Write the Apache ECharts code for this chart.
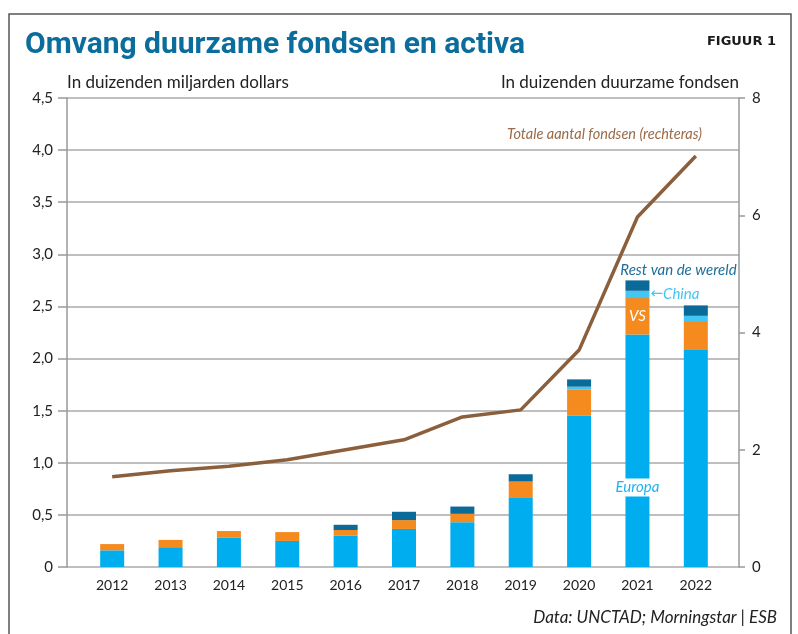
<!DOCTYPE html>
<html>
<head>
<meta charset="utf-8">
<script src="https://cdn.jsdelivr.net/npm/echarts@6/dist/echarts.min.js"></script>
<style>
  html, body { margin: 0; padding: 0; background: #fff; }
  #chart { width: 798px; height: 634px; }
</style>
</head>
<body>
<div id="chart"></div>
<script>
// waarden
const years = ['2012', '2013', '2014', '2015', '2016', '2017', '2018', '2019', '2020', '2021', '2022'];
const europa = [0.16, 0.19, 0.28, 0.25, 0.30, 0.365, 0.43, 0.67, 1.45, 2.23, 2.09];
const vs = [0.06, 0.07, 0.065, 0.085, 0.055, 0.085, 0.08, 0.15, 0.25, 0.35, 0.27];
const china = [null, null, null, null, null, null, null, null, 0.03, 0.07, 0.05];
const rest = [null, null, null, null, 0.05, 0.08, 0.07, 0.07, 0.07, 0.10, 0.10];
const fondsen = [1.538, 1.64, 1.72, 1.83, 2.0, 2.17, 2.56, 2.68, 3.70, 5.97, 7.012];

const FONT = 'Lato';
const LABEL_YEAR = 9; // 2021 krijgt de annotaties

function withLabel(arr, idx, label) {
  return arr.map((v, i) => (i === idx ? { value: v, label: label } : v));
}

const chart = echarts.init(document.getElementById('chart'));

const option = {
  animation: false,
  textStyle: { fontFamily: FONT },
  title: [
    {
      text: 'Omvang duurzame fondsen en activa',
      left: 20,
      top: 25,
      textStyle: { fontFamily: 'Roboto', fontWeight: 'bold', fontSize: 30, color: '#0b6d9c' }
    },
    {
      text: 'FIGUUR 1',
      right: 17,
      top: 30,
      textStyle: { fontFamily: 'DejaVu Sans', fontWeight: 'bold', fontSize: 13, color: '#1a1a1a' }
    },
    {
      text: 'Data: UNCTAD; Morningstar | ESB',
      right: 16,
      top: 604,
      textStyle: { fontFamily: FONT, fontStyle: 'italic', fontWeight: 'normal', fontSize: 17, color: '#222' }
    }
  ],
  graphic: [
    {
      type: 'rect',
      silent: true,
      z: -10,
      shape: { x: 9, y: 14, width: 782, height: 660 },
      style: { fill: 'none', stroke: '#555', lineWidth: 1.5 }
    },
    {
      type: 'text',
      silent: true,
      x: 702,
      y: 134,
      style: {
        text: 'Totale aantal fondsen (rechteras)',
        fill: '#9a6b48',
        font: 'italic 14.5px Lato',
        align: 'right',
        verticalAlign: 'middle'
      }
    }
  ],
  grid: [
    { left: 67, right: 59, top: 98, bottom: 67 },
    { left: 83, right: 73, top: 98, bottom: 67 }
  ],
  xAxis: [
    {
      type: 'value', gridIndex: 0, min: 0, max: 1,
      axisLine: { show: false }, axisTick: { show: false },
      axisLabel: { show: false }, splitLine: { show: false }
    },
    {
      type: 'category', gridIndex: 1, data: years,
      axisLine: { show: false }, axisTick: { show: false },
      axisLabel: { color: '#222', fontSize: 14, margin: 11 }
    }
  ],
  yAxis: [
    {
      type: 'value', gridIndex: 0, position: 'left',
      min: 0, max: 4.5, interval: 0.5,
      name: 'In duizenden miljarden dollars',
      nameLocation: 'end',
      nameGap: 15,
      nameTextStyle: { align: 'left', verticalAlign: 'middle', fontSize: 17, color: '#222' },
      axisLine: { show: true, lineStyle: { color: '#999', width: 1.5 } },
      axisTick: { show: true, length: 9, lineStyle: { color: '#999', width: 1.5 } },
      axisLabel: {
        color: '#222', fontSize: 15, margin: 14,
        formatter: v => (v === 0 ? '0' : v.toFixed(1).replace('.', ','))
      },
      splitLine: { show: true, lineStyle: { color: '#aaa', width: 1.5 } }
    },
    {
      type: 'value', gridIndex: 0, position: 'right',
      min: 0, max: 8, interval: 2,
      name: 'In duizenden duurzame fondsen',
      nameLocation: 'end',
      nameGap: 15,
      nameTextStyle: { align: 'right', verticalAlign: 'middle', fontSize: 17, color: '#222' },
      axisLine: { show: true, lineStyle: { color: '#999', width: 1.5 } },
      axisTick: { show: true, length: 6, lineStyle: { color: '#999', width: 1.5 } },
      axisLabel: { color: '#222', fontSize: 15, margin: 13 },
      splitLine: { show: false }
    },
    { type: 'value', gridIndex: 1, min: 0, max: 4.5, show: false },
    { type: 'value', gridIndex: 1, min: 0, max: 8, show: false }
  ],
  series: [
    {
      name: 'Europa', type: 'bar', stack: 'activa',
      xAxisIndex: 1, yAxisIndex: 2, barWidth: 24,
      itemStyle: { color: '#00adee' },
      data: withLabel(europa, LABEL_YEAR, {
        show: true,
        position: ['50%', 153],
        align: 'center',
        verticalAlign: 'middle',
        formatter: 'Europa',
        color: '#1fb4ef',
        fontStyle: 'italic',
        fontSize: 15,
        lineHeight: 18,
        backgroundColor: '#fff',
        padding: [0, 0]
      })
    },
    {
      name: 'VS', type: 'bar', stack: 'activa',
      xAxisIndex: 1, yAxisIndex: 2, barWidth: 24,
      itemStyle: { color: '#f58a1f' },
      data: withLabel(vs, LABEL_YEAR, {
        show: true, position: 'inside', formatter: 'VS',
        color: '#fff', fontStyle: 'italic', fontSize: 15
      })
    },
    {
      name: 'China', type: 'bar', stack: 'activa',
      xAxisIndex: 1, yAxisIndex: 2, barWidth: 24,
      itemStyle: { color: '#43c6f2' },
      data: withLabel(china, LABEL_YEAR, {
        show: true, position: 'right', distance: 1,
        formatter: '{a|←}{b|China}',
        rich: {
          a: { fontFamily: 'DejaVu Sans', fontSize: 15, color: '#43c6f2' },
          b: { fontFamily: FONT, fontStyle: 'italic', fontSize: 15, color: '#43c6f2' }
        }
      })
    },
    {
      name: 'Rest van de wereld', type: 'bar', stack: 'activa',
      xAxisIndex: 1, yAxisIndex: 2, barWidth: 24,
      itemStyle: { color: '#0a6a9a' },
      data: withLabel(rest, LABEL_YEAR, {
        show: true, position: 'top', distance: 3, offset: [41, 0],
        formatter: 'Rest van de wereld',
        color: '#1d6e9b', fontStyle: 'italic', fontSize: 15
      })
    },
    {
      name: 'Totale aantal fondsen', type: 'line',
      xAxisIndex: 1, yAxisIndex: 3,
      symbol: 'none', z: 5,
      lineStyle: { color: '#8b5e3c', width: 3.5 },
      itemStyle: { color: '#8b5e3c' },
      data: fondsen.map((v, i) => {
        if (i === 0) {
          return { value: v, label: { show: true, position: 'left', distance: 6, formatter: '1.538', color: '#9a6b48', fontSize: 12 } };
        }
        if (i === fondsen.length - 1) {
          return { value: v, label: { show: true, position: 'right', distance: 3, offset: [0, -4], formatter: '7.012', color: '#9a6b48', fontSize: 12 } };
        }
        return v;
      })
    }
  ]
};

chart.setOption(option);
window.addEventListener('resize', function () {
  chart.resize();
});
</script>
</body>
</html>
